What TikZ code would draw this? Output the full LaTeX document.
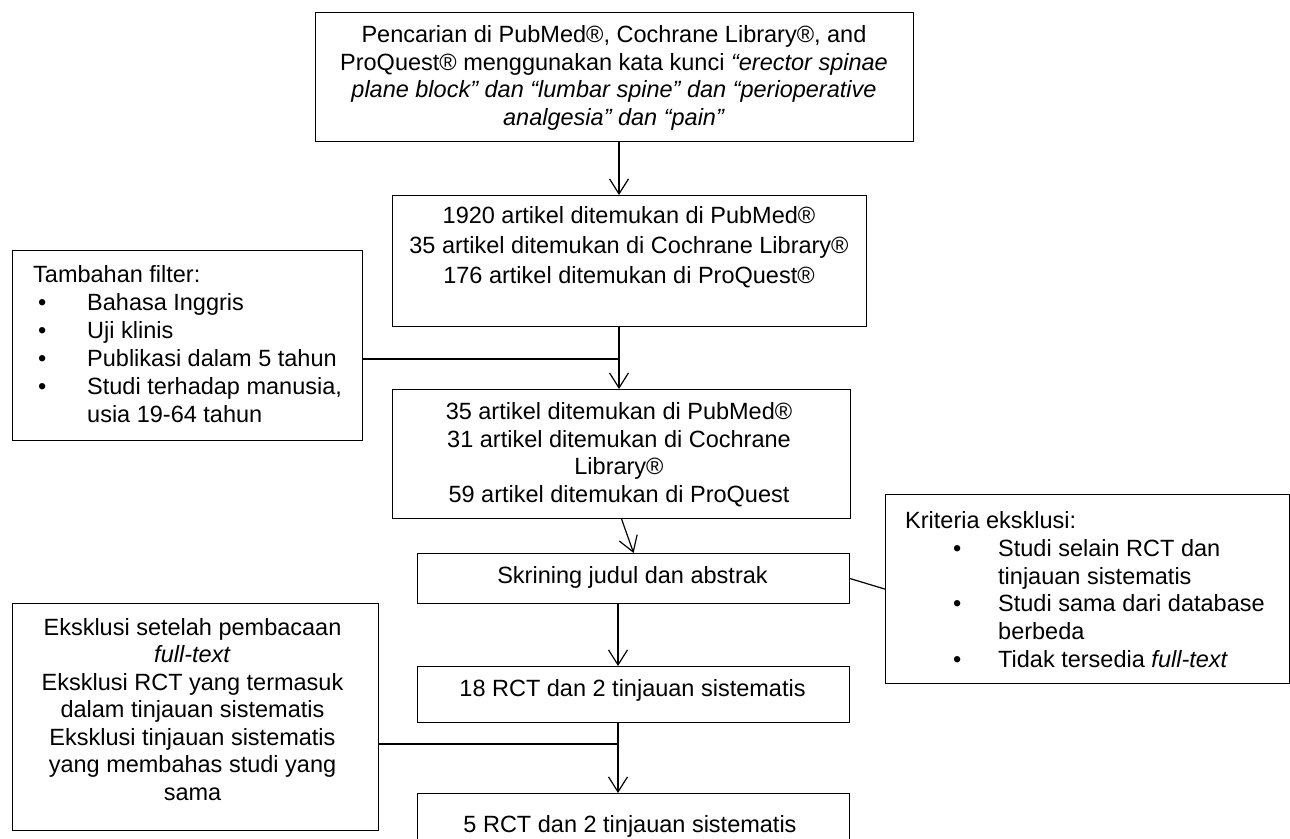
\documentclass[tikz,border=0pt]{standalone}
\usepackage{fontspec}
\setmainfont{Liberation Sans}
\usetikzlibrary{arrows.meta}
\newcommand{\tp}{\rule{0pt}{20pt}}
\begin{document}
\begin{tikzpicture}[x=1pt,y=-1pt,
  box/.style={draw=black, line width=1.2pt, rectangle, inner sep=0pt, anchor=north west},
  txt/.style={inner sep=0pt, font=\fontsize{23.5}{#1}\selectfont},
  txt/.default=28,
  arr/.style={line width=1.2pt, -{Straight Barb[length=15pt,width=19pt,line width=1.2pt]}},
  con/.style={line width=1.2pt}]
\useasboundingbox (0,0) rectangle (1290,838);
% boxes
\node[box, minimum width=598pt, minimum height=129pt] (b1) at (315,12) {};
\node[box, minimum width=474pt, minimum height=131pt] (b2) at (392,195) {};
\node[box, minimum width=458pt, minimum height=129pt] (b3) at (392,389) {};
\node[box, minimum width=432pt, minimum height=50pt] (b4) at (417,553) {};
\node[box, minimum width=432pt, minimum height=56pt] (b5) at (417,666) {};
\node[box, minimum width=432pt, minimum height=58pt] (b6) at (417,793) {};
\node[box, minimum width=350pt, minimum height=190pt] (f1) at (12,250) {};
\node[box, minimum width=404pt, minimum height=189pt] (kr) at (885,494) {};
\node[box, minimum width=366pt, minimum height=227pt] (f2) at (12,603) {};
% texts
\node[txt=27.6, anchor=north, align=center] (t1) at (614,22.4) {\tp Pencarian di PubMed®, Cochrane Library®, and\\ProQuest® menggunakan kata kunci \textit{“erector spinae}\\\textit{plane block” dan “lumbar spine” dan “perioperative}\\\textit{analgesia” dan “pain”}};
\node[txt=30, anchor=north, align=center] (t2) at (629,203.4) {\tp 1920 artikel ditemukan di PubMed®\\35 artikel ditemukan di Cochrane Library®\\176 artikel ditemukan di ProQuest®};
\node[txt=27.5, anchor=north, align=center] (t3) at (619,399.5) {\tp 35 artikel ditemukan di PubMed®\\31 artikel ditemukan di Cochrane\\Library®\\59 artikel ditemukan di ProQuest};
\node[txt, anchor=north, align=center] (t4) at (632.5,563.5) {\tp Skrining judul dan abstrak};
\node[txt, anchor=north, align=center] (t5) at (632.5,676.7) {\tp 18 RCT dan 2 tinjauan sistematis};
\node[txt, anchor=north, align=center] (t6) at (630,812.5) {\tp 5 RCT dan 2 tinjauan sistematis};
\node[txt, anchor=north west, align=left] (tf1) at (33,262) {\tp Tambahan filter:\\
\hspace*{5pt}\makebox[49pt][l]{•}Bahasa Inggris\\
\hspace*{5pt}\makebox[49pt][l]{•}Uji klinis\\
\hspace*{5pt}\makebox[49pt][l]{•}Publikasi dalam 5 tahun\\
\hspace*{5pt}\makebox[49pt][l]{•}Studi terhadap manusia,\\
\hspace*{54pt}usia 19-64 tahun};
\node[txt=27.7, anchor=north west, align=left] (tkr) at (905,508.5) {\tp Kriteria eksklusi:\\
\hspace*{48pt}\makebox[45pt][l]{•}Studi selain RCT dan\\
\hspace*{93pt}tinjauan sistematis\\
\hspace*{48pt}\makebox[45pt][l]{•}Studi sama dari database\\
\hspace*{93pt}berbeda\\
\hspace*{48pt}\makebox[45pt][l]{•}Tidak tersedia \textit{full-text}};
\node[txt=27.5, anchor=north, align=center] (tf2) at (192.5,615) {\tp Eksklusi setelah pembacaan\\\textit{full-text}\\Eksklusi RCT yang termasuk\\dalam tinjauan sistematis\\Eksklusi tinjauan sistematis\\yang membahas studi yang\\sama};
% connectors
\coordinate (cx) at (619,0);
\coordinate (cy) at (618,0);
\coordinate (j1) at (619,359);
\coordinate (j2) at (618,744);
\draw[arr] (b1.south -| cx) -- (b2.north -| cx);
\draw[arr] (b2.south -| cx) -- (b3.north -| cx);
\draw[con] (f1.east |- j1) -- (j1);
\draw[arr] (b3.south) -- (b4.north);
\draw[con] (b4.east) -- (kr.west);
\draw[arr] (b4.south -| cy) -- (b5.north -| cy);
\draw[arr] (b5.south -| cy) -- (b6.north -| cy);
\draw[con] (f2.east |- j2) -- (j2);
\end{tikzpicture}
\end{document}
